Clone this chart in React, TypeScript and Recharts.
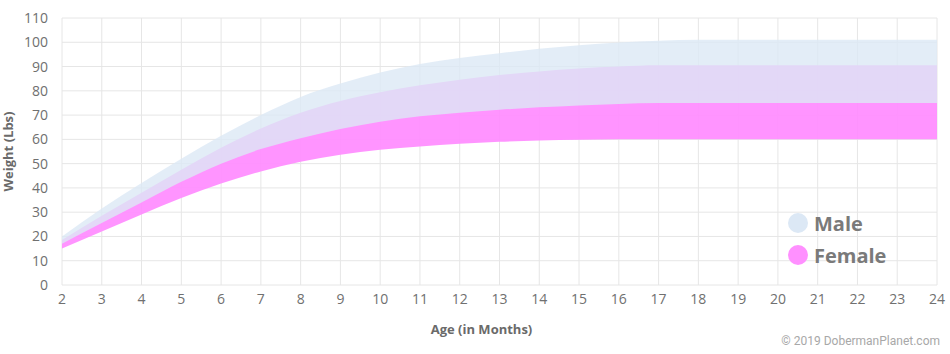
import {
  ComposedChart,
  Area,
  XAxis,
  YAxis,
  CartesianGrid,
} from "recharts";

const months = [2, 3, 4, 5, 6, 7, 8, 9, 10, 11, 12, 13, 14, 15, 16, 17, 18, 19, 20, 21, 22, 23, 24];
const femaleLow = [15, 22, 29, 35.8, 41.8, 46.8, 50.8, 53.7, 55.7, 57.1, 58.2, 59, 59.5, 59.8, 60, 60, 60, 60, 60, 60, 60, 60, 60];
const femaleHigh = [18.5, 28.5, 38, 47.5, 56.5, 64.5, 71, 75.8, 79.4, 82.3, 84.6, 86.5, 88, 89.2, 90, 90.5, 90.5, 90.5, 90.5, 90.5, 90.5, 90.5, 90.5];
const maleLow = [17, 25.5, 34, 42.5, 50, 56, 60.5, 64.3, 67.3, 69.5, 71, 72.2, 73.2, 74, 74.6, 75, 75, 75, 75, 75, 75, 75, 75];
const maleHigh = [20, 31.5, 42, 52, 61.5, 70, 77.5, 83, 87.5, 91, 93.5, 95.5, 97.3, 98.8, 99.9, 100.6, 101, 101, 101, 101, 101, 101, 101];
const yTicks = [0, 10, 20, 30, 40, 50, 60, 70, 80, 90, 100, 110];
const legendItems = ["Male", "Female"];

const MALE = "#dce8f5";
const FEMALE = "#ff8bff";
const TEXT = "#707070";
const FONT = "'Open Sans', sans-serif";

const data = months.map((m, i) => ({
  month: m,
  female: [femaleLow[i], femaleHigh[i]],
  male: [maleLow[i], maleHigh[i]],
}));

function LegendBox() {
  const colors = [MALE, "#ff90ff"];
  return (
    <div
      style={{
        position: "absolute",
        left: 788,
        top: 207,
        fontFamily: FONT,
      }}
    >
      {legendItems.map((name, i) => (
        <div
          key={name}
          style={{ display: "flex", alignItems: "center", height: 32 }}
        >
          <span
            style={{
              width: 20,
              height: 20,
              borderRadius: 10,
              background: colors[i],
              marginRight: 6,
            }}
          />
          <span style={{ fontSize: 20, fontWeight: 700, color: "#7a7a7a" }}>
            {name}
          </span>
        </div>
      ))}
    </div>
  );
}

export default function App() {
  return (
    <div
      style={{
        position: "fixed",
        left: 0,
        top: 0,
        width: 950,
        height: 354,
        background: "#fff",
      }}
    >
      <ComposedChart
        width={950}
        height={354}
        data={data}
        margin={{ top: 18, right: 13, left: 0, bottom: 0 }}
      >
        <CartesianGrid stroke="#e6e6e6" />
        <XAxis
          dataKey="month"
          type="number"
          domain={[2, 24]}
          ticks={months}
          interval={0}
          height={69}
          axisLine={false}
          tickLine={false}
          tickSize={0}
          tickMargin={9}
          tick={{ fontSize: 14, fill: TEXT, fontFamily: FONT }}
          label={{
            value: "Age (in Months)",
            position: "insideBottom",
            offset: 20,
            dx: -18,
            style: {
              fontSize: 13,
              fontWeight: 700,
              fill: "#6a6a6a",
              fontFamily: FONT,
            },
          }}
        />
        <YAxis
          domain={[0, 110]}
          ticks={yTicks}
          interval={0}
          width={62}
          axisLine={false}
          tickLine={false}
          tickSize={0}
          tickMargin={14}
          tick={{ fontSize: 14, fill: TEXT, fontFamily: FONT }}
          label={{
            value: "Weight (Lbs)",
            angle: -90,
            position: "insideLeft",
            offset: 8,
            style: {
              textAnchor: "middle",
              fontSize: 13,
              fontWeight: 700,
              fill: "#6a6a6a",
              fontFamily: FONT,
            },
          }}
        />
        <Area
          type="monotone"
          dataKey="female"
          name="Female"
          stroke="none"
          fill={FEMALE}
          fillOpacity={0.92}
          isAnimationActive={false}
        />
        <Area
          type="monotone"
          dataKey="male"
          name="Male"
          stroke="none"
          fill={MALE}
          fillOpacity={0.8}
          isAnimationActive={false}
        />
      </ComposedChart>
      <LegendBox />
      <div
        style={{
          position: "absolute",
          right: 10,
          top: 334,
          fontSize: 12,
          color: "#a8a8a8",
          fontFamily: "Roboto, sans-serif",
        }}
      >
        © 2019 DobermanPlanet.com
      </div>
    </div>
  );
}
